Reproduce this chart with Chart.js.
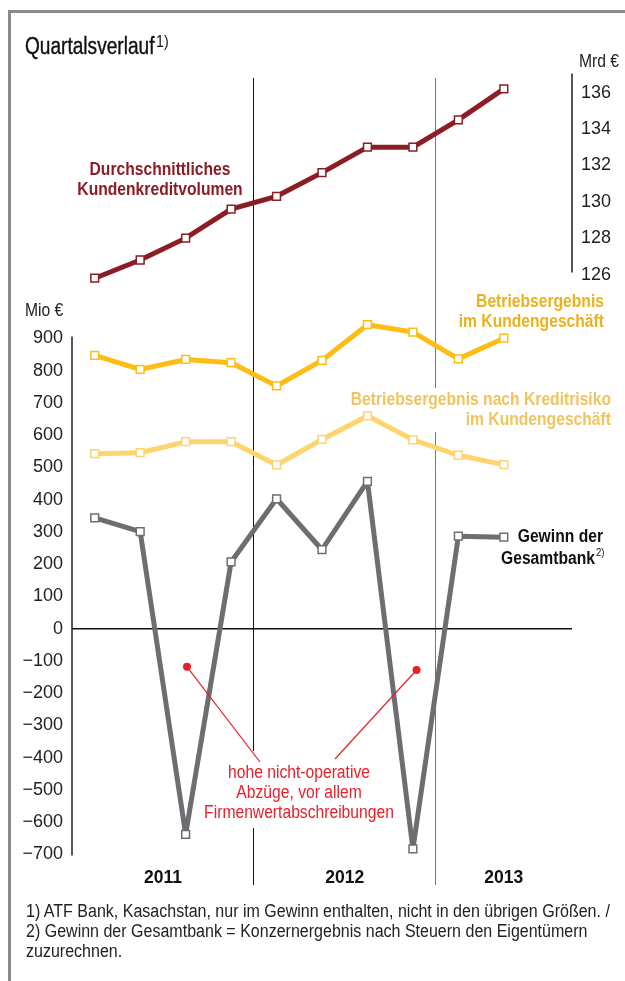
<!DOCTYPE html>
<html>
<head>
<meta charset="utf-8">
<script src="https://cdn.jsdelivr.net/npm/chart.js@4.4.0/dist/chart.umd.min.js"></script>
<style>
  html, body { margin: 0; padding: 0; background: #fff; }
  body { width: 625px; height: 981px; position: relative; overflow: hidden;
         font-family: "Liberation Sans", Arial, sans-serif; }
  #frame { position: absolute; left: 8px; top: 10px; width: 700px; height: 1000px;
           border-left: 3px solid #8a8a8a; border-top: 3px solid #8a8a8a; }
  .narrow { position: absolute; white-space: nowrap; transform-origin: 0 0; }
  #title { left: 25px; top: 33px; font-size: 23px; color: #111; -webkit-text-stroke: 0.4px #111; transform: scaleX(0.83); }
  #title span { font-size: 17px; position: relative; top: -7px; margin-left: 2px; -webkit-text-stroke: 0; }
  #notes { left: 26px; top: 901px; font-size: 18px; line-height: 20px; color: #222; transform: scaleX(0.89); }
  #wrap { position: absolute; left: 0; top: 0; width: 625px; height: 981px; }
</style>
</head>
<body>
<div id="frame"></div>
<div id="wrap"><canvas id="chart"></canvas></div>
<div id="title" class="narrow">Quartalsverlauf<span>1)</span></div>
<div id="notes" class="narrow">1) ATF Bank, Kasachstan, nur im Gewinn enthalten, nicht in den übrigen Größen. /<br>2) Gewinn der Gesamtbank = Konzernergebnis nach Steuern den Eigentümern<br>zuzurechnen.</div>
<script>
// quarters Q1 2011 .. Q2 2013, plus one empty slot on the right
const quarters = ['Q1 2011', 'Q2 2011', 'Q3 2011', 'Q4 2011', 'Q1 2012', 'Q2 2012', 'Q3 2012', 'Q4 2012', 'Q1 2013', 'Q2 2013', ''];

// Mrd €
const kreditvolumen = [125.8, 126.8, 128.0, 129.6, 130.3, 131.6, 133.0, 133.0, 134.5, 136.2];
// Mio €
const betriebsergebnis = [848, 804, 835, 825, 753, 832, 943, 920, 837, 901];
const nachKreditrisiko = [543, 546, 580, 580, 508, 587, 660, 586, 538, 509];
const gewinn = [344, 301, -638, 207, 403, 245, 457, -683, 287, 284];

const mioTicks = [-700, -600, -500, -400, -300, -200, -100, 0, 100, 200, 300, 400, 500, 600, 700, 800, 900];
const mrdTicks = [126, 128, 130, 132, 134, 136];
const years = ['2011', '2012', '2013'];
const yearCenters = [1.5, 5.5, 9];

const FONT = '"Liberation Sans", Arial, sans-serif';
const SX = 0.87; // squeeze canvas text to look like a condensed face
const RED = '#8c1d24';
const ORANGE = '#fdbd14';
const LIGHT = '#fed46e';
const GREY = '#6d6e71';
const NOTE = '#e8202a';

function series(label, data, color, axis, width, join) {
    return {
        label: label,
        data: data,
        yAxisID: axis,
        borderColor: color,
        borderWidth: width,
        borderJoinStyle: join,
        pointBorderColor: color,
        pointBackgroundColor: '#fff',
        pointBorderWidth: 1.5,
        pointRadius: 5.5,
        pointStyle: 'rect',
        tension: 0
    };
}

function narrowText(ctx, t, x, y) {
    ctx.save();
    ctx.translate(x, y);
    ctx.scale(SX, 1);
    ctx.fillText(t, 0, 0);
    ctx.restore();
}

function textLines(ctx, lines, x, y, step) {
    lines.forEach((t, i) => narrowText(ctx, t, x, y + i * step));
}

const decor = {
    id: 'decor',
    beforeDatasetsDraw(chart) {
        const ctx = chart.ctx;
        const area = chart.chartArea;
        const yL = chart.scales.y;
        const yR = chart.scales.y2;
        ctx.save();
        // axis lines
        ctx.strokeStyle = '#222';
        ctx.lineWidth = 1.5;
        ctx.beginPath();
        ctx.moveTo(area.left, yL.getPixelForValue(900) - 2);
        ctx.lineTo(area.left, yL.getPixelForValue(-700) + 1);
        ctx.moveTo(area.right, yR.getPixelForValue(136) - 19);
        ctx.lineTo(area.right, yR.getPixelForValue(126) - 2);
        ctx.stroke();

        // unit labels
        ctx.fillStyle = '#222';
        ctx.font = '18px ' + FONT;
        ctx.textBaseline = 'middle';
        ctx.textAlign = 'left';
        narrowText(ctx, 'Mio €', 25, 311);
        narrowText(ctx, 'Mrd €', 579, 62);

        // white boxes that break the year dividers behind the labels
        ctx.fillStyle = '#fff';
        ctx.fillRect(340, 388, 275, 44);
        ctx.fillRect(203, 751, 196, 77);

        ctx.font = 'bold 18px ' + FONT;
        ctx.textAlign = 'center';
        ctx.fillStyle = RED;
        textLines(ctx, ['Durchschnittliches', 'Kundenkreditvolumen'], 160, 170, 20);

        ctx.textAlign = 'right';
        ctx.fillStyle = '#ebb21c';
        textLines(ctx, ['Betriebsergebnis', 'im Kundengeschäft'], 604, 302, 20);
        ctx.fillStyle = '#f0c45e';
        textLines(ctx, ['Betriebsergebnis nach Kreditrisiko', 'im Kundengeschäft'], 611, 400, 20);
        ctx.fillStyle = '#111';
        narrowText(ctx, 'Gewinn der', 603, 537);
        narrowText(ctx, 'Gesamtbank', 595, 559);
        ctx.font = '11px ' + FONT;
        ctx.textAlign = 'left';
        narrowText(ctx, '2)', 596, 553);

        ctx.font = '18px ' + FONT;
        ctx.textAlign = 'center';
        ctx.fillStyle = NOTE;
        textLines(ctx, ['hohe nicht-operative', 'Abzüge, vor allem', 'Firmenwertabschreibungen'], 299, 773, 20);
        ctx.restore();
    },
    afterDatasetsDraw(chart) {
        const ctx = chart.ctx;
        const x = chart.scales.x;
        const y = chart.scales.y;
        const dots = [
            { q: 2.03, v: -118, tx: 260, ty: 762 },
            { q: 7.08, v: -128, tx: 335, ty: 759 }
        ];
        ctx.save();
        ctx.strokeStyle = NOTE;
        ctx.fillStyle = NOTE;
        ctx.lineWidth = 1.2;
        dots.forEach(d => {
            const px = x.getPixelForValue(d.q);
            const py = y.getPixelForValue(d.v);
            ctx.beginPath();
            ctx.moveTo(px, py);
            ctx.lineTo(d.tx, d.ty);
            ctx.stroke();
            ctx.beginPath();
            ctx.arc(px, py, 4, 0, Math.PI * 2);
            ctx.fill();
        });
        ctx.restore();
    }
};

new Chart(document.getElementById('chart').getContext('2d'), {
    type: 'line',
    data: {
        labels: quarters,
        datasets: [
            series('Durchschnittliches Kundenkreditvolumen', kreditvolumen, RED, 'y2', 5, 'miter'),
            series('Betriebsergebnis im Kundengeschäft', betriebsergebnis, ORANGE, 'y', 5, 'miter'),
            series('Betriebsergebnis nach Kreditrisiko im Kundengeschäft', nachKreditrisiko, LIGHT, 'y', 5, 'miter'),
            series('Gewinn der Gesamtbank', gewinn, GREY, 'y', 5, 'bevel')
        ]
    },
    options: {
        responsive: true,
        maintainAspectRatio: false,
        animation: false,
        devicePixelRatio: 1,
        layout: { padding: { top: 78, left: 0, right: 0, bottom: 0 } },
        plugins: { legend: { display: false }, tooltip: { enabled: false } },
        scales: {
            x: {
                type: 'category',
                offset: true,
                weight: 0,
                border: { display: false },
                ticks: { display: false },
                grid: {
                    offset: true,
                    drawTicks: true,
                    tickLength: 28,
                    lineWidth: 1,
                    color: c => c.index === 4 ? '#111' : (c.index === 8 ? '#777' : 'rgba(0,0,0,0)')
                },
                afterFit: s => { s.height = 1; }
            },
            years: {
                type: 'linear',
                position: 'bottom',
                weight: 1,
                min: -0.5,
                max: 10.5,
                border: { display: false },
                grid: { display: false, drawTicks: false },
                afterBuildTicks: s => { s.ticks = yearCenters.map(v => ({ value: v })); },
                ticks: {
                    padding: 10,
                    color: '#111',
                    font: { family: FONT, size: 17.5, weight: 'bold' },
                    callback: v => years[yearCenters.indexOf(v)]
                },
                afterFit: s => { s.height = 123; }
            },
            y: {
                position: 'left',
                min: -708,
                max: 1708,
                border: { display: false },
                grid: {
                    drawTicks: false,
                    lineWidth: 1.5,
                    color: c => (c.tick && c.tick.value === 0) ? '#111' : 'rgba(0,0,0,0)'
                },
                afterBuildTicks: s => { s.ticks = mioTicks.map(v => ({ value: v })); },
                ticks: {
                    padding: 9,
                    color: '#222',
                    font: { family: FONT, size: 18 },
                    callback: v => v < 0 ? '\u2212' + Math.abs(v) : String(v)
                },
                afterFit: s => { s.width = 72; }
            },
            y2: {
                position: 'right',
                min: 94.0,
                max: 136.8,
                border: { display: false },
                grid: { display: false, drawTicks: false },
                afterBuildTicks: s => { s.ticks = mrdTicks.map(v => ({ value: v })); },
                ticks: {
                    padding: 9,
                    color: '#222',
                    font: { family: FONT, size: 18 },
                    callback: v => String(v)
                },
                afterFit: s => { s.width = 53; }
            }
        }
    },
    plugins: [decor]
});
</script>
</body>
</html>
